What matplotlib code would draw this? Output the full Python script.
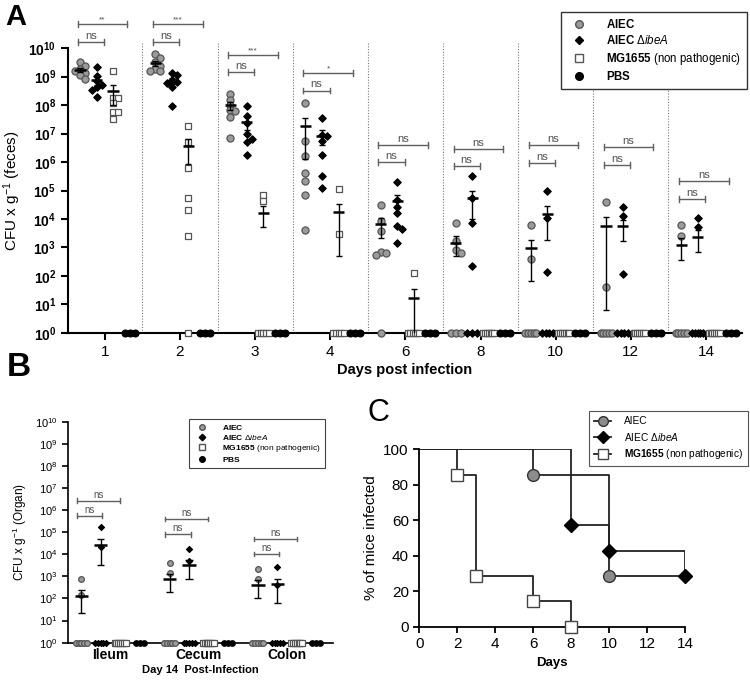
import numpy as np
import matplotlib
matplotlib.use('Agg')
import matplotlib.pyplot as plt
from matplotlib.lines import Line2D

plt.rcParams['font.family'] = ['Liberation Sans', 'DejaVu Sans']
plt.rcParams['mathtext.fontset'] = 'custom'
plt.rcParams['mathtext.rm'] = 'Liberation Sans'
plt.rcParams['mathtext.it'] = 'Liberation Sans:italic'
plt.rcParams['mathtext.bf'] = 'Liberation Sans:bold'

# ---------------- data: panel A (CFU per g feces, 0 = not detected) ----------------
days = ['1', '2', '3', '4', '6', '8', '10', '12', '14']
aiec = [
    [3.3e9, 2.3e9, 1.8e9, 1.6e9, 1.3e9, 1.1e9, 8.0e8],
    [6.0e9, 4.5e9, 3.2e9, 2.4e9, 1.8e9, 1.6e9, 1.5e9],
    [2.5e8, 1.55e8, 1.0e8, 6.5e7, 6.0e7, 3.8e7, 7.0e6],
    [1.17e8, 5.4e6, 1.6e6, 4.1e5, 2.1e5, 6.8e4, 4.0e3],
    [3.1e4, 8.5e3, 3.8e3, 7.1e2, 5.5e2, 6.6e2, 0],
    [7.1e3, 1.7e3, 8.1e2, 6.6e2, 0, 0, 0],
    [6.2e3, 4.0e2, 0, 0, 0, 0, 0],
    [4.1e4, 40, 0, 0, 0, 0, 0],
    [6.2e3, 2.6e3, 0, 0, 0, 0, 0],
]
ibea = [
    [2.2e9, 1.05e9, 7.1e8, 5.0e8, 4.4e8, 3.5e8, 1.95e8],
    [1.35e9, 1.1e9, 7.6e8, 6.6e8, 5.8e8, 4.4e8, 9.5e7],
    [8.9e7, 4.0e7, 2.3e7, 9.3e6, 6.6e6, 5.0e6, 1.8e6],
    [3.5e7, 8.7e6, 7.9e6, 5.4e6, 1.7e6, 3.2e5, 1.2e5],
    [1.95e5, 4.7e4, 2.7e4, 1.6e4, 5.6e3, 4.4e3, 1.4e3],
    [3.2e5, 5.6e4, 7.1e3, 2.2e2, 0, 0, 0],
    [9.8e4, 1.1e4, 1.4e2, 0, 0, 0, 0],
    [2.6e4, 1.3e4, 1.15e2, 0, 0, 0, 0],
    [1.1e4, 5.4e3, 0, 0, 0, 0, 0],
]
mg = [
    [1.55e9, 1.7e8, 1.7e8, 1.15e8, 5.9e7, 5.9e7, 3.2e7],
    [1.9e7, 5.0e6, 6.2e5, 5.5e4, 2.0e4, 2.5e3, 0],
    [7.2e4, 4.3e4, 0, 0, 0, 0, 0],
    [1.17e5, 3.0e3, 0, 0, 0, 0, 0],
    [123, 0, 0, 0, 0, 0, 0],
    [0, 0, 0, 0, 0, 0, 0],
    [0, 0, 0, 0, 0, 0, 0],
    [0, 0, 0, 0, 0, 0, 0],
    [0, 0, 0, 0, 0, 0, 0],
]
pbs = [[0, 0, 0] for _ in days]
# significance brackets: AIEC vs dibeA (inner) and AIEC vs MG1655 (outer)
a_inner_lvl = [1.6e10, 1.6e10, 1.4e9, 3.2e8, 1.0e6, 7.2e5, 9.0e5, 7.8e5, 5.0e4]
a_outer_lvl = [6.9e10, 6.9e10, 5.6e9, 1.3e9, 4.0e6, 2.9e6, 4.0e6, 3.4e6, 2.1e5]
a_outer_txt = ['**', '***', '***', '*', 'ns', 'ns', 'ns', 'ns', 'ns']

# ---------------- data: panel B (CFU per g organ, day 14) ----------------
organs = ['Ileum', 'Cecum', 'Colon']
b_aiec = [[760, 145, 0, 0, 0, 0, 0], [3.9e3, 1.4e3, 0, 0, 0, 0, 0], [2.14e3, 760, 0, 0, 0, 0, 0]]
b_ibea = [[1.66e5, 2.1e4, 0, 0, 0, 0, 0], [1.74e4, 5.1e3, 0, 0, 0, 0, 0], [2.6e3, 410, 0, 0, 0, 0, 0]]
b_mg = [[0] * 7 for _ in organs]
b_pbs = [[0, 0, 0] for _ in organs]
b_inner_lvl = [5.6e5, 8.0e4, 1.0e4]
b_outer_lvl = [2.7e6, 4.0e5, 4.8e4]

# ---------------- data: panel C (% of mice infected) ----------------
c_aiec_d = [0, 6, 10, 14]
c_aiec_p = [100, 85.7, 28.6, 28.6]
c_ibea_d = [0, 8, 10, 14]
c_ibea_p = [100, 57.1, 42.9, 28.6]
c_mg_d = [0, 2, 3, 6, 8]
c_mg_p = [100, 85.7, 28.6, 14.3, 0]

styles = [
    dict(marker='o', facecolor='#9b9b9b', edgecolor='#555555', s=26),
    dict(marker='D', facecolor='black', edgecolor='black', s=14),
    dict(marker='s', facecolor='white', edgecolor='#555555', s=24),
    dict(marker='o', facecolor='black', edgecolor='black', s=24),
]
offsets = [-0.33, -0.11, 0.11, 0.33]


def spread(vals, dec_px, unit_px, step=5.0, mind=4.5):
    vals = np.asarray(vals, float)
    offs = np.zeros(len(vals))
    nz = np.where(vals > 0)[0]
    z = np.where(vals <= 0)[0]
    if len(z) > 1:
        sp = min(step, 11.0 / (len(z) - 1))
        offs[z] = (np.arange(len(z)) - (len(z) - 1) / 2) * sp
    y = np.log10(vals[nz]) * dec_px if len(nz) else []
    placed = []
    for j in np.argsort(-np.asarray(y)):
        for k in range(30):
            cand = ((k + 1) // 2) * step * (1 if k % 2 else -1) if k else 0.0
            if all(np.hypot(cand - px, y[j] - py) >= mind for px, py in placed):
                break
        placed.append((cand, y[j]))
        offs[nz[j]] = cand
    return offs / unit_px


def draw_groups(ax, groups, dec_px, unit_px, scale=1.0):
    for ci in range(len(groups[0])):
        for gi, grp in enumerate(groups):
            vals = np.asarray(grp[ci], float)
            xc = ci + offsets[gi]
            x = xc + spread(vals, dec_px, unit_px, step=5.0 * scale ** 0.5, mind=4.5 * scale ** 0.5)
            y = np.where(vals > 0, vals, 1.0)
            st = dict(styles[gi])
            st['s'] = st['s'] * scale
            ax.scatter(x, y, linewidths=0.9, clip_on=False, zorder=3, **st)
            if gi < 3 and vals.max() > 0:
                m = vals.mean()
                se = vals.std(ddof=1) / np.sqrt(len(vals))
                lo = m - se if m - se > 0 else 0.1
                ax.vlines(xc, lo, m + se, color='black', lw=1.0, zorder=4)
                ax.hlines(m + se, xc - 0.04, xc + 0.04, color='black', lw=1.0, zorder=4)
                if lo > 1:
                    ax.hlines(lo, xc - 0.04, xc + 0.04, color='black', lw=1.0, zorder=4)
                ax.hlines(m, xc - 0.075, xc + 0.075, color='black', lw=1.8, zorder=5)


def bracket(ax, x0, x1, lvl, txt, fs, tick=10 ** 0.1):
    c = '#606060'
    ax.plot([x0, x1], [lvl, lvl], color=c, lw=1.0, clip_on=False)
    for xx in (x0, x1):
        ax.plot([xx, xx], [lvl / tick, lvl * tick], color=c, lw=1.0, clip_on=False)
    ax.text((x0 + x1) / 2, lvl * 10 ** 0.04, txt, ha='center', va='bottom',
            fontsize=fs, color='#505050', clip_on=False)


def log_axis(ax, fs, bold):
    ax.set_yscale('log')
    ax.set_ylim(1, 1e10)
    ax.set_yticks([10.0 ** n for n in range(11)])
    if bold:
        ax.set_yticklabels([r'$\mathbf{10^{%d}}$' % n for n in range(11)], fontsize=fs)
    else:
        ax.set_yticklabels([r'$10^{%d}$' % n for n in range(11)], fontsize=fs)
    ax.minorticks_off()
    for s in ('top', 'right'):
        ax.spines[s].set_visible(False)


fig = plt.figure(figsize=(7.5, 6.8), dpi=100)

# ---------------- panel A ----------------
ax = fig.add_axes([0.0907, 0.5103, 0.8987, 0.4191])
log_axis(ax, 10, True)
ax.set_xlim(-0.49, 8.48)
draw_groups(ax, [aiec, ibea, mg, pbs], 28.5, 75.1)
for i in range(len(days) - 1):
    ax.plot([i + 0.5, i + 0.5], [1, 10 ** 10.2], color='#777777', lw=0.8,
            ls=(0, (1, 1.5)), clip_on=False, zorder=1)
for i in range(len(days)):
    bracket(ax, i - 0.36, i - 0.01, a_inner_lvl[i], 'ns', 8)
    bracket(ax, i - 0.36, i + 0.30, a_outer_lvl[i], a_outer_txt[i], 8 if a_outer_txt[i] == 'ns' else 6)
ax.set_xticks(range(len(days)))
ax.set_xticklabels(days, fontsize=11)
ax.spines['left'].set_linewidth(1.5)
ax.spines['bottom'].set_linewidth(1.5)
ax.tick_params(axis='both', width=1.5, length=5, direction='out')
ax.set_ylabel(r'CFU x g$^{-1}$ (feces)', fontsize=11, labelpad=4)
ax.set_xlabel('Days post infection', fontsize=10.5, fontweight='bold', labelpad=3)

hA = [Line2D([], [], ls='none', marker=st['marker'], markerfacecolor=st['facecolor'],
             markeredgecolor=st['edgecolor'], markersize=5.5 if st['marker'] != 'D' else 4.5)
      for st in styles]
labA = [r'$\mathbf{AIEC}$', r'$\mathbf{AIEC}$ $\Delta\mathit{ibeA}$',
        r'$\mathbf{MG1655}$ (non pathogenic)', r'$\mathbf{PBS}$']
legA = fig.legend(hA, labA, loc='upper right', bbox_to_anchor=(747 / 750, 1 - 12 / 680), fontsize=8.3,
                  frameon=True, fancybox=False, edgecolor='#333333', framealpha=1,
                  borderpad=0.5, labelspacing=0.3, handletextpad=1.4, borderaxespad=0)
legA.get_frame().set_linewidth(1.0)

# ---------------- panel B ----------------
bx = fig.add_axes([0.0907, 0.0549, 0.3533, 0.325])
log_axis(bx, 8, False)
bx.set_xlim(-0.48, 2.52)
draw_groups(bx, [b_aiec, b_ibea, b_mg, b_pbs], 22.1, 88.3, scale=0.65)
for i in range(len(organs)):
    bracket(bx, i - 0.38, i - 0.09, b_inner_lvl[i], 'ns', 7)
    bracket(bx, i - 0.38, i + 0.11, b_outer_lvl[i], 'ns', 7)
bx.set_xticks(range(len(organs)))
bx.set_xticklabels(organs, fontsize=10, fontweight='bold')
bx.tick_params(axis='x', length=0, pad=4)
bx.tick_params(axis='y', width=1.2, length=4)
bx.spines['left'].set_linewidth(1.2)
bx.spines['bottom'].set_linewidth(1.2)
bx.set_ylabel(r'CFU x g$^{-1}$ (Organ)', fontsize=8.5, labelpad=4)
bx.set_xlabel('Day 14  Post-Infection', fontsize=8, fontweight='bold', labelpad=2)
hB = [Line2D([], [], ls='none', marker=st['marker'], markerfacecolor=st['facecolor'],
             markeredgecolor=st['edgecolor'], markersize=4 if st['marker'] != 'D' else 3.3)
      for st in styles]
legB = fig.legend(hB, labA, loc='upper left', bbox_to_anchor=(189 / 750, 1 - 419 / 680), fontsize=6,
                  frameon=True, fancybox=False, edgecolor='#444444', framealpha=1,
                  borderpad=0.5, labelspacing=0.12, handletextpad=1.5, borderaxespad=0)
legB.get_frame().set_linewidth(0.8)

# ---------------- panel C ----------------
cx = fig.add_axes([0.559, 0.0784, 0.3543, 0.2609])
cx.step(c_aiec_d, c_aiec_p, where='post', color='#222222', lw=1.3, zorder=2)
cx.step(c_ibea_d, c_ibea_p, where='post', color='#222222', lw=1.3, zorder=2)
cx.step(c_mg_d, c_mg_p, where='post', color='#222222', lw=1.3, zorder=2)
cx.plot(c_aiec_d[1:-1], c_aiec_p[1:-1], ls='none', marker='o', markersize=8.5,
        markerfacecolor='#8c8c8c', markeredgecolor='#333333', clip_on=False, zorder=3)
cx.plot(c_ibea_d[1:], c_ibea_p[1:], ls='none', marker='D', markersize=7,
        markerfacecolor='black', markeredgecolor='black', clip_on=False, zorder=3)
cx.plot(c_mg_d[1:], c_mg_p[1:], ls='none', marker='s', markersize=8,
        markerfacecolor='white', markeredgecolor='#444444', clip_on=False, zorder=3)
cx.set_xlim(0, 14)
cx.set_ylim(0, 100)
cx.set_xticks(range(0, 15, 2))
cx.set_yticks(range(0, 101, 20))
cx.tick_params(labelsize=11, width=1.3, length=4)
for s in ('top', 'right'):
    cx.spines[s].set_visible(False)
cx.spines['left'].set_linewidth(1.3)
cx.spines['bottom'].set_linewidth(1.3)
cx.set_ylabel('% of mice infected', fontsize=11)
cx.set_xlabel('Days', fontsize=9.5, fontweight='bold')
hC = [Line2D([], [], color='#222222', lw=1.3, marker='o', markersize=7,
             markerfacecolor='#8c8c8c', markeredgecolor='#333333'),
      Line2D([], [], color='#222222', lw=1.3, marker='D', markersize=6,
             markerfacecolor='black', markeredgecolor='black'),
      Line2D([], [], color='#222222', lw=1.3, marker='s', markersize=7,
             markerfacecolor='white', markeredgecolor='#444444')]
labC = ['AIEC', r'AIEC $\Delta\mathbf{\mathit{ibeA}}$', r'$\mathbf{MG1655}$ (non pathogenic)']
legC = fig.legend(hC, labC, loc='upper right', bbox_to_anchor=(748 / 750, 1 - 411 / 680), fontsize=7.3,
                  frameon=True, fancybox=False, edgecolor='#555555', framealpha=1,
                  borderpad=0.5, labelspacing=0.45, handlelength=1.6, handletextpad=1.3,
                  borderaxespad=0)
legC.get_frame().set_linewidth(0.8)

fig.text(0.007, 0.995, 'A', fontsize=21, fontweight='bold', va='top')
fig.text(0.009, 0.483, 'B', fontsize=24, fontweight='bold', va='top')
fig.text(0.49, 0.415, 'C', fontsize=22, va='top')

fig.savefig('out.png', dpi=100)
